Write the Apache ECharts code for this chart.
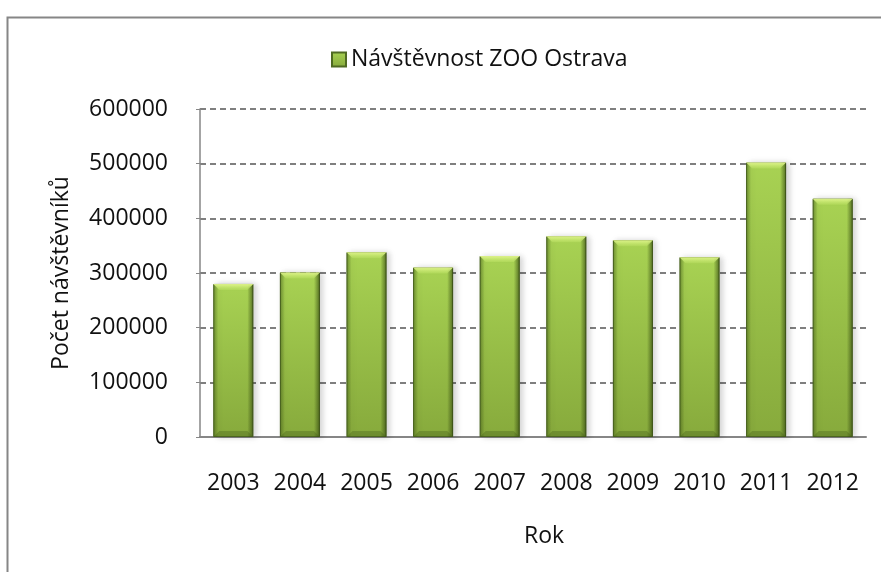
<!DOCTYPE html>
<html>
<head>
    <meta charset="utf-8">
    <title>Návštěvnost ZOO Ostrava</title>
    <script src="https://cdn.jsdelivr.net/npm/echarts@6/dist/echarts.min.js"></script>
    <style>
        html, body { margin: 0; padding: 0; background: #fff; }
    </style>
</head>
<body>
<div id="main" style="width: 881px;height:572px;"></div>
<script type="text/javascript">
    // data
    var years = ['2003', '2004', '2005', '2006', '2007', '2008', '2009', '2010', '2011', '2012'];
    var visitors = [280000, 301000, 338000, 310000, 331000, 367000, 360000, 329000, 502000, 436000];
    var seriesName = 'Návštěvnost ZOO Ostrava';
    var yTicks = [0, 100000, 200000, 300000, 400000, 500000, 600000];

    var BAR_W = 40;
    var font = '"Open Sans", "Liberation Sans", sans-serif';
    var grey = '#868686';
    var fs = 23;

    var myChart = echarts.init(document.getElementById('main'));

    // bevel decor on top of each bar (top highlight, darker sides)
    function bevel(params, api) {
        var top = api.coord([api.value(0), api.value(1)]);
        var base = api.coord([api.value(0), 0]);
        var x0 = top[0] - BAR_W / 2, x1 = top[0] + BAR_W / 2;
        var y0 = top[1], y1 = base[1];
        var b = 6;
        return {
            type: 'group',
            children: [
                { type: 'rect', shape: { x: x0, y: y0, width: 5, height: y1 - y0 },
                  style: { fill: new echarts.graphic.LinearGradient(0, 0, 1, 0, [
                      { offset: 0, color: 'rgba(60,85,20,0.55)' }, { offset: 1, color: 'rgba(60,85,20,0)' }]) } },
                { type: 'rect', shape: { x: x1 - 6, y: y0, width: 6, height: y1 - y0 },
                  style: { fill: new echarts.graphic.LinearGradient(0, 0, 1, 0, [
                      { offset: 0, color: 'rgba(50,70,15,0)' }, { offset: 1, color: 'rgba(50,70,15,0.7)' }]) } },
                { type: 'polygon', shape: { points: [[x0, y0], [x1, y0], [x1 - b, y0 + b], [x0 + b, y0 + b]] },
                  style: { fill: new echarts.graphic.LinearGradient(0, 0, 0, 1, [
                      { offset: 0, color: '#e2f78e' }, { offset: 1, color: 'rgba(200,235,110,0.3)' }]) } },
                { type: 'polygon', shape: { points: [[x0, y1], [x1, y1], [x1 - b, y1 - b], [x0 + b, y1 - b]] },
                  style: { fill: 'rgba(70,95,25,0.35)' } }
            ]
        };
    }

    myChart.setOption({
        animation: false,
        graphic: [{
            type: 'rect',
            left: 5, top: 15,
            shape: { x: 0, y: 0, width: 1000, height: 700 },
            style: { fill: 'none', stroke: grey, lineWidth: 2 },
            silent: true
        }],
        legend: {
            top: 43,
            left: 326,
            itemWidth: 14,
            itemHeight: 14,
            itemGap: 8,
            icon: 'rect',
            textStyle: { color: '#111', fontSize: fs, fontFamily: font },
            data: [seriesName]
        },
        grid: { left: 200, right: 15, top: 109, bottom: 135 },
        xAxis: {
            type: 'category',
            data: years,
            name: 'Rok',
            nameLocation: 'middle',
            nameGap: 88,
            nameTextStyle: { color: '#111', fontSize: fs, fontFamily: font, padding: [0, 0, 0, 22] },
            axisLine: { lineStyle: { color: grey, width: 2 } },
            axisTick: { show: false },
            axisLabel: { color: '#111', fontSize: fs, fontFamily: font, margin: 35, interval: 0 }
        },
        yAxis: {
            type: 'value',
            min: yTicks[0],
            max: yTicks[yTicks.length - 1],
            interval: yTicks[1] - yTicks[0],
            name: 'Počet návštěvníků',
            nameLocation: 'middle',
            nameRotate: 90,
            nameGap: 127,
            nameTextStyle: { color: '#111', fontSize: fs, fontFamily: font },
            axisLine: { show: true, lineStyle: { color: grey, width: 1.5 } },
            axisTick: { show: true, length: 4, lineStyle: { color: grey } },
            axisLabel: { color: '#111', fontSize: fs, fontFamily: font, margin: 32,
                         formatter: function (v) { return String(v); } },
            splitLine: { lineStyle: { color: '#7f7f7f', width: 2, type: [6, 4] } }
        },
        series: [{
            name: seriesName,
            type: 'bar',
            barWidth: BAR_W,
            data: visitors,
            itemStyle: {
                color: new echarts.graphic.LinearGradient(0, 0, 0, 1, [
                    { offset: 0, color: '#a8d253' },
                    { offset: 1, color: '#87aa3c' }
                ]),
                borderColor: '#4f6a22',
                borderWidth: 1,
                shadowColor: 'rgba(0,0,0,0.18)',
                shadowBlur: 6,
                shadowOffsetX: 3
            }
        }, {
            name: 'bevel',
            type: 'custom',
            silent: true,
            renderItem: bevel,
            data: visitors.map(function (v, i) { return [i, v]; }),
            z: 3
        }]
    });
</script>
</body>
</html>
